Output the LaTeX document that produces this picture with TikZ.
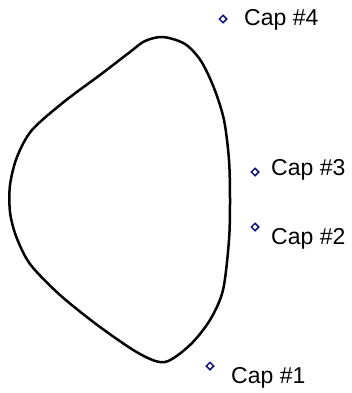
\documentclass[tikz,border=0pt]{standalone}
\usepackage{fontspec}
\setmainfont{Liberation Sans}
\usetikzlibrary{shapes.geometric}
\definecolor{capnavy}{RGB}{20,20,120}
\tikzset{
  capmark/.style={diamond,draw=capnavy,line width=1.5pt,inner sep=0pt,minimum size=8pt},
  caplabel/.style={anchor=base west,inner sep=0pt,font=\fontsize{23}{26}\selectfont},
  outline/.style={draw=black,line width=2.5pt}
}
\begin{document}
\begin{tikzpicture}[x=1pt,y=-1pt]
\useasboundingbox (0,0) rectangle (351,393);
\draw[outline] plot[smooth cycle,tension=0.5] coordinates {
 (163,37) (185,44) (201,61) (214,88) (224,120) (229,160) (230,200)
 (229,240) (223,290) (210,320) (190,345) (165,362) (140,354)
 (100,327) (60,295) (30,264) (16,236) (10,212) (10,185) (17,157)
 (32,130) (65,101) (100,75) (130,52) (145,41)};
\node[capmark] (m4) at (223,19) {};
\node[capmark] (m3) at (255,172) {};
\node[capmark] (m2) at (255,227) {};
\node[capmark] (m1) at (210,366) {};
\node[caplabel] (t4) at (244,26) {Cap \#4};
\node[caplabel] (t3) at (271,175) {Cap \#3};
\node[caplabel] (t2) at (271,244) {Cap \#2};
\node[caplabel] (t1) at (231,383) {Cap \#1};
\end{tikzpicture}
\end{document}
